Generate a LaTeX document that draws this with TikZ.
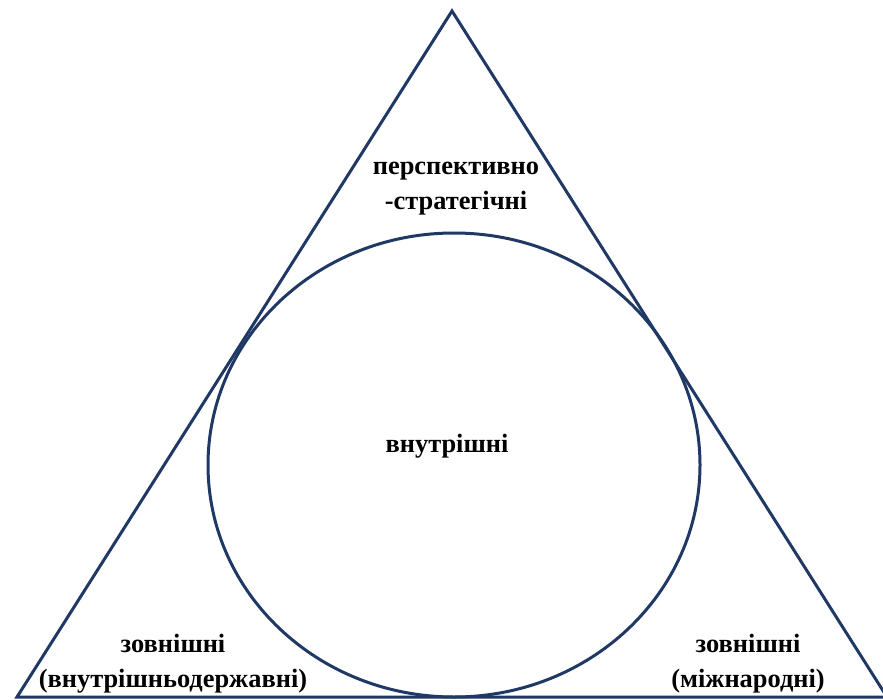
\documentclass[tikz,border=0pt]{standalone}
\usepackage{fontspec}
\setmainfont{Liberation Serif}
\definecolor{navy}{HTML}{1F3864}
\begin{document}
\begin{tikzpicture}[x=1bp,y=-1bp,
  edge/.style={draw=navy,line width=3bp,line join=miter},
  lbl/.style={font=\fontsize{26.5}{35}\selectfont\bfseries,align=center,inner sep=0pt}]
\useasboundingbox (0,0) rectangle (883,700);
\clip (0,0) rectangle (883,700);
\fill[white] (0,0) rectangle (883,700);
\coordinate (apex) at (452,11);
\coordinate (bl) at (17,697);
\coordinate (br) at (887,697);
\draw[edge] (bl) -- (apex) -- (br) -- cycle;
\draw[edge] (454,465) ellipse [x radius=246, y radius=232];
\node[lbl] (top) at (456,189) {перспективно\\-стратегічні};
\node[lbl] (mid) at (447,446) {внутрішні};
\node[lbl] (left) at (173,664) {зовнішні\\(внутрішньодержавні)};
\node[lbl] (right) at (748,664) {зовнішні\\(міжнародні)};
\end{tikzpicture}
\end{document}
